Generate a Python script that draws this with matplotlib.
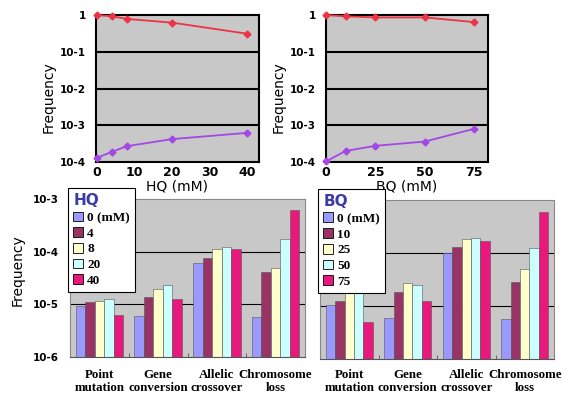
import numpy as np
import matplotlib
matplotlib.use("Agg")
import matplotlib.pyplot as plt
from matplotlib.patches import Patch

# ---------------- data ----------------
hq_conc = [0, 4, 8, 20, 40]
hq_red = [1.0, 0.92, 0.78, 0.62, 0.31]
hq_purple = [1.3e-4, 1.9e-4, 2.7e-4, 4.2e-4, 6.2e-4]

bq_conc = [0, 10, 25, 50, 75]
bq_red = [1.0, 0.92, 0.86, 0.86, 0.64]
bq_purple = [1.04e-4, 2.0e-4, 2.76e-4, 3.6e-4, 8.0e-4]

categories = ["Point\nmutation", "Gene\nconversion", "Allelic\ncrossover", "Chromosome\nloss"]
hq_labels = ["0 (mM)", "4", "8", "20", "40"]
bq_labels = ["0 (mM)", "10", "25", "50", "75"]

# rows: concentration, columns: category
hq_bars = [
    [8.1e-6, 5.1e-6, 5.9e-5, 4.7e-6],
    [1.02e-5, 1.3e-5, 7.4e-5, 4.1e-5],
    [1.08e-5, 1.86e-5, 1.13e-4, 4.8e-5],
    [1.16e-5, 2.2e-5, 1.24e-4, 1.7e-4],
    [5.3e-6, 1.15e-5, 1.1e-4, 6.2e-4],
]
bq_bars = [
    [9.3e-6, 5.0e-6, 9.9e-5, 4.8e-6],
    [1.15e-5, 1.7e-5, 1.3e-4, 2.7e-5],
    [1.7e-5, 2.6e-5, 1.8e-4, 4.8e-5],
    [1.9e-5, 2.4e-5, 1.93e-4, 1.23e-4],
    [4.0e-6, 1.15e-5, 1.7e-4, 5.9e-4],
]

line_yticks = [1, 1e-1, 1e-2, 1e-3, 1e-4]
line_yticklabels = ["1", "10-1", "10-2", "10-3", "10-4"]
bar_yticks = [1e-3, 1e-4, 1e-5, 1e-6]
bar_yticklabels = ["10-3", "10-4", "10-5", "10-6"]

bar_colors = ["#9999ff", "#993366", "#ffffcc", "#ccffff", "#e8187c"]
red_c = "#ee3344"
purple_c = "#a347e6"
bg = "#c8c8c8"

W, H = 564, 396
fig = plt.figure(figsize=(W / 100, H / 100), dpi=100)
fig.patch.set_facecolor("white")


def ax_px(l, r, t, b):
    return fig.add_axes([l / W, 1 - b / H, (r - l) / W, (b - t) / H])


def line_panel(ax, x, red, purple, xlim, xticks, xlabel):
    ax.set_facecolor(bg)
    ax.set_yscale("log")
    ax.set_ylim(1e-4, 1)
    ax.set_xlim(*xlim)
    for yv in [1e-1, 1e-2, 1e-3]:
        ax.axhline(yv, color="black", lw=1.5, zorder=1)
    ax.plot(x, red, color=red_c, lw=1.3, marker="D", ms=3.5, clip_on=False, zorder=3)
    ax.plot(x, purple, color=purple_c, lw=1.3, marker="D", ms=3.5, clip_on=False, zorder=3)
    ax.set_yticks(line_yticks)
    ax.set_yticklabels(line_yticklabels, fontsize=7.5, fontweight="bold")
    ax.yaxis.set_minor_locator(matplotlib.ticker.NullLocator())
    ax.set_xticks(xticks)
    ax.set_xticklabels([str(t) for t in xticks], fontsize=9, fontweight="bold")
    ax.tick_params(axis="y", length=0, pad=7)
    ax.tick_params(axis="x", length=0, pad=3)
    for s in ax.spines.values():
        s.set_color("black")
        s.set_linewidth(1.5)
    ax.set_xlabel(xlabel, fontsize=10, labelpad=0)


ax1 = ax_px(96, 259, 15, 162)
line_panel(ax1, hq_conc, hq_red, hq_purple, (-0.3, 43.2), [0, 10, 20, 30, 40], "HQ (mM)")
ax2 = ax_px(326, 488, 15, 162)
line_panel(ax2, bq_conc, bq_red, bq_purple, (0, 82), [0, 25, 50, 75], "BQ (mM)")

fig.text(49 / W, 1 - 97 / H, "Frequency", rotation=90, ha="center", va="center", fontsize=10)
fig.text(279 / W, 1 - 97 / H, "Frequency", rotation=90, ha="center", va="center", fontsize=10)


def bar_panel(ax, data, labels, title, show_yticks, xpad):
    ax.set_facecolor(bg)
    ax.set_yscale("log")
    ax.set_ylim(1e-6, 1e-3)
    ncat = len(categories)
    nser = len(data)
    ax.set_xlim(0, ncat)
    bw = 0.162
    for yv in [1e-4, 1e-5]:
        ax.axhline(yv, color="black", lw=0.8, zorder=1)
    idx = np.arange(ncat) + 0.5
    for i in range(nser):
        ax.bar(idx + (i - (nser - 1) / 2) * bw, data[i], width=bw, bottom=1e-6,
               color=bar_colors[i], edgecolor="#555555", linewidth=0.4, zorder=2)
    ax.set_yticks(bar_yticks)
    if show_yticks:
        ax.set_yticklabels(bar_yticklabels, fontsize=7.5, fontweight="bold")
    else:
        ax.set_yticklabels([])
    ax.yaxis.set_minor_locator(matplotlib.ticker.NullLocator())
    ax.tick_params(axis="y", length=0, pad=8)
    ax.set_xticks(idx)
    ax.set_xticklabels(categories, fontsize=9.3, fontweight="bold", family="Liberation Serif",
                       linespacing=1.05)
    ax.set_xticks([1, 2, 3], minor=True)
    ax.tick_params(axis="x", which="major", length=0, pad=xpad)
    ax.tick_params(axis="x", which="minor", length=3, direction="in", color="#555555")
    for s in ax.spines.values():
        s.set_color("#888888")
        s.set_linewidth(0.8)
    ax.spines["bottom"].set_color("#555555")
    handles = [Patch(facecolor=c, edgecolor="black", linewidth=0.6) for c in bar_colors]
    leg = ax.legend(handles, labels, title=title, loc="upper left",
                    bbox_to_anchor=(-0.008, 1.07), frameon=True, fancybox=False,
                    edgecolor="black", framealpha=1,
                    prop={"family": "Liberation Serif", "weight": "bold", "size": 9.5},
                    handlelength=0.75, handleheight=0.75, handletextpad=0.3,
                    labelspacing=0.25, borderpad=0.4, borderaxespad=0)
    leg.get_frame().set_linewidth(0.8)
    tt = leg.get_title()
    tt.set_fontsize(11)
    tt.set_fontweight("bold")
    tt.set_color("#3c3ca8")
    leg._legend_box.align = "left"
    leg.set_zorder(5)


ax3 = ax_px(70, 305, 199, 357)
bar_panel(ax3, hq_bars, hq_labels, "HQ", True, 9)
ax4 = ax_px(320, 554, 200, 359)
bar_panel(ax4, bq_bars, bq_labels, "BQ", False, 7.5)

fig.text(18 / W, 1 - 270 / H, "Frequency", rotation=90, ha="center", va="center", fontsize=10)

fig.savefig("out.png", dpi=100)
